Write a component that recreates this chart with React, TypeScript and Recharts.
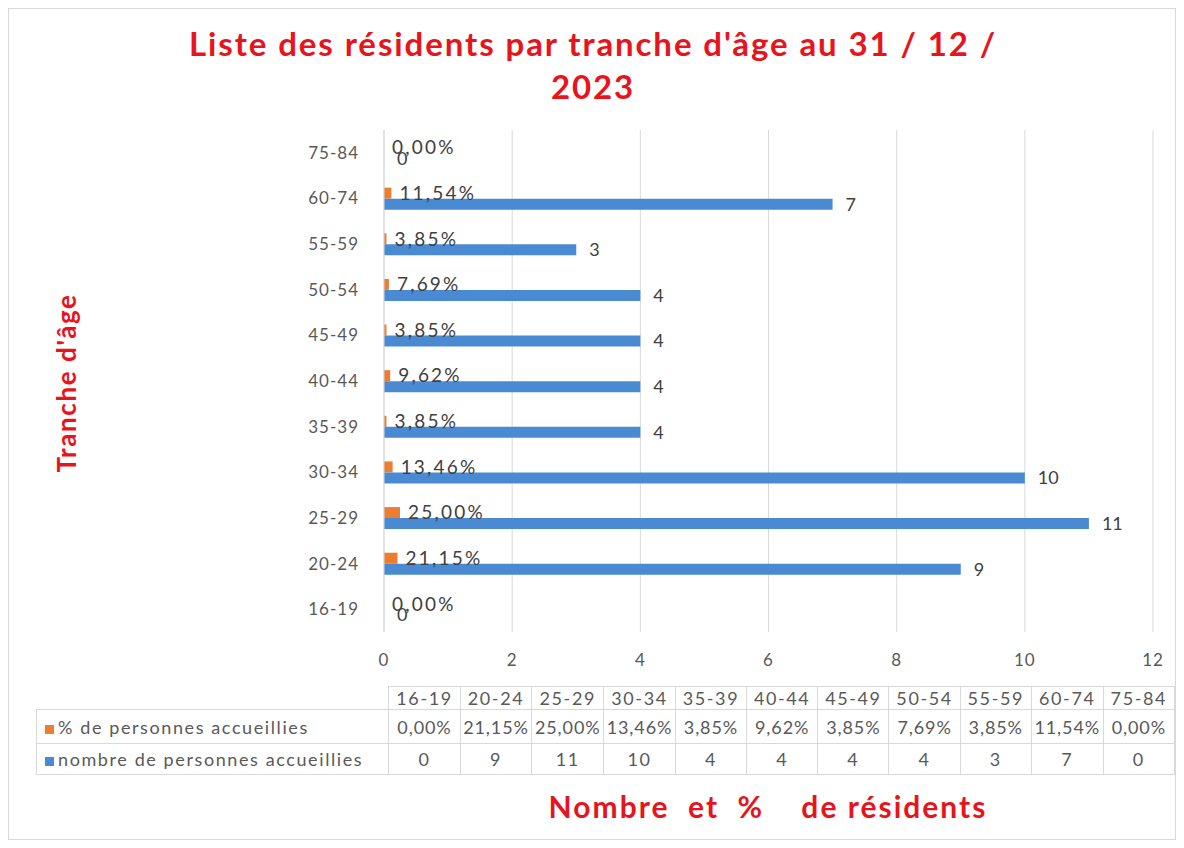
import { BarChart, Bar, XAxis, YAxis, CartesianGrid, LabelList } from "recharts";

// tranches d'âge, dans l'ordre du tableau (de bas en haut sur le graphique)
const categories = ["16-19", "20-24", "25-29", "30-34", "35-39", "40-44", "45-49", "50-54", "55-59", "60-74", "75-84"];
const pctValues = [0, 21.15, 25.0, 13.46, 3.85, 9.62, 3.85, 7.69, 3.85, 11.54, 0];
const countValues = [0, 9, 11, 10, 4, 4, 4, 4, 3, 7, 0];
const xTicks = [0, 2, 4, 6, 8, 10, 12];

const ORANGE = "#ed7d31";
const BLUE = "#4a8ad2";
const RED = "#e8141c";
const GREY = "#595959";
const FONT = "Lato, 'Noto Sans', sans-serif";

const data = categories.map((c, i) => ({
    tranche: c,
    pct: pctValues[i] / 100,
    count: countValues[i],
}));

const fmtPct = (v: number) => (v * 100).toFixed(2).replace(".", ",") + "%";

const W = 1168;
const H = 832;

export default function App() {
    const tableLeft = 27;
    const labelColW = 345;
    const colW = (1154 - tableLeft - labelColW) / categories.length;
    const cell: React.CSSProperties = {
        border: "1px solid #d9d9d9",
        padding: 0,
        textAlign: "center",
        width: colW,
        whiteSpace: "nowrap",
        overflow: "visible",
    };

    return (
        <div
            style={{
                position: "relative",
                width: W,
                height: H,
                fontFamily: FONT,
                background: "#fff",
                border: "1px solid #d9d9d9",
                boxSizing: "border-box",
            }}
        >
            {/* titre */}
            <div
                style={{
                    position: "absolute",
                    left: 0,
                    width: W,
                    top: 13,
                    textAlign: "center",
                    color: RED,
                    fontWeight: 700,
                    fontSize: 33,
                    lineHeight: "43px",
                    letterSpacing: 1.9,
                }}
            >
                Liste des résidents par tranche d'âge au 31 / 12 /
                <br />
                2023
            </div>

            {/* titre axe vertical */}
            <div
                style={{
                    position: "absolute",
                    left: 57,
                    top: 374,
                    transform: "translate(-50%, -50%) rotate(-90deg)",
                    color: RED,
                    fontWeight: 700,
                    fontSize: 26,
                    letterSpacing: 1.6,
                    whiteSpace: "nowrap",
                }}
            >
                Tranche d'âge
            </div>

            <div style={{ position: "absolute", left: 0, top: 0 }}>
                <BarChart
                    width={W}
                    height={680}
                    data={data}
                    layout="vertical"
                    margin={{ top: 121, right: 24, left: 295, bottom: 17 }}
                    barSize={11}
                    barGap={0}
                >
                    <CartesianGrid horizontal={false} vertical={true} stroke="#d9d9d9" />
                    <XAxis
                        type="number"
                        domain={[0, 12]}
                        ticks={xTicks}
                        axisLine={false}
                        tickLine={false}
                        height={40}
                        tickMargin={16}
                        tick={{ fontSize: 17, fill: GREY, fontFamily: FONT, letterSpacing: 1 }}
                    />
                    <YAxis
                        type="category"
                        dataKey="tranche"
                        reversed
                        width={80}
                        axisLine={{ stroke: "#d9d9d9" }}
                        tickLine={false}
                        tickMargin={19}
                        tick={{ fontSize: 17, fill: GREY, fontFamily: FONT, letterSpacing: 1 }}
                    />
                    <Bar
                        dataKey="pct"
                        name="% de personnes accueillies"
                        fill={ORANGE}
                        minPointSize={0.05}
                        isAnimationActive={false}
                    >
                        <LabelList
                            dataKey="pct"
                            position="right"
                            offset={8}
                            formatter={(v: any) => fmtPct(Number(v))}
                            style={{ fontSize: 19, fill: "#404040", fontFamily: FONT, letterSpacing: 2.2 }}
                        />
                    </Bar>
                    <Bar
                        dataKey="count"
                        name="nombre de personnes accueillies"
                        fill={BLUE}
                        minPointSize={0.05}
                        isAnimationActive={false}
                    >
                        <LabelList
                            dataKey="count"
                            position="right"
                            offset={13}
                            style={{ fontSize: 18, fill: "#404040", fontFamily: FONT }}
                        />
                    </Bar>
                </BarChart>
            </div>

            {/* tableau de données */}
            <table
                style={{
                    position: "absolute",
                    left: tableLeft,
                    top: 677,
                    borderCollapse: "collapse",
                    tableLayout: "fixed",
                    color: GREY,
                    fontSize: 18,
                    letterSpacing: 1.6,
                    fontFamily: FONT,
                }}
            >
                <tbody>
                    <tr style={{ height: 23 }}>
                        <td style={{ width: labelColW, padding: 0 }} />
                        {categories.map((c) => (
                            <td key={c} style={cell}>
                                {c}
                            </td>
                        ))}
                    </tr>
                    <tr style={{ height: 34 }}>
                        <td style={{ ...cell, width: labelColW, textAlign: "left", paddingLeft: 8 }}>
                            <span
                                style={{
                                    display: "inline-block",
                                    width: 9,
                                    height: 9,
                                    background: ORANGE,
                                    marginRight: 4,
                                }}
                            />
                            % de personnes accueillies
                        </td>
                        {pctValues.map((v, i) => (
                            <td key={i} style={{ ...cell, letterSpacing: 0.9 }}>
                                {fmtPct(v / 100)}
                            </td>
                        ))}
                    </tr>
                    <tr style={{ height: 31 }}>
                        <td style={{ ...cell, width: labelColW, textAlign: "left", paddingLeft: 8 }}>
                            <span
                                style={{
                                    display: "inline-block",
                                    width: 9,
                                    height: 9,
                                    background: BLUE,
                                    marginRight: 4,
                                }}
                            />
                            nombre de personnes accueillies
                        </td>
                        {countValues.map((v, i) => (
                            <td key={i} style={cell}>
                                {v}
                            </td>
                        ))}
                    </tr>
                </tbody>
            </table>

            {/* titre axe horizontal */}
            <div
                style={{
                    position: "absolute",
                    left: 759,
                    top: 797,
                    transform: "translate(-50%, -50%)",
                    color: RED,
                    fontWeight: 700,
                    fontSize: 30,
                    letterSpacing: 2,
                    whiteSpace: "pre",
                }}
            >
                {"Nombre  et  %    de résidents"}
            </div>
        </div>
    );
}
